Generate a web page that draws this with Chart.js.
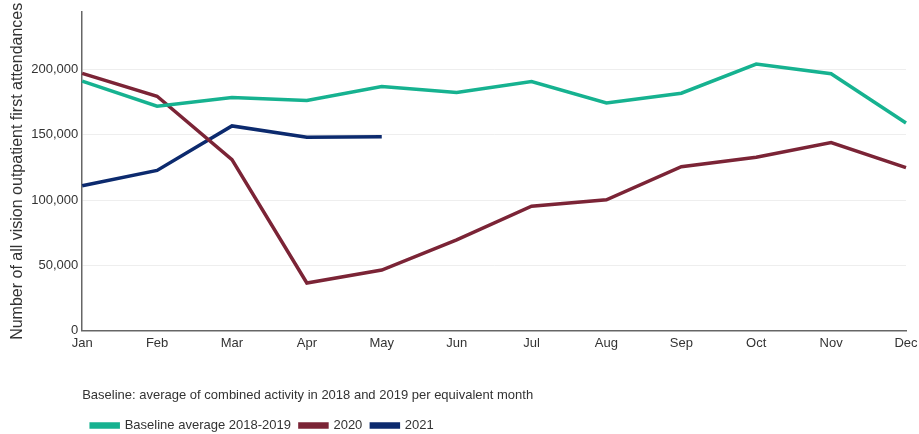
<!DOCTYPE html>
<html>
<head>
<meta charset="utf-8">
<script src="https://cdn.jsdelivr.net/npm/chart.js@4/dist/chart.umd.min.js"></script>
<style>
  html, body { margin: 0; padding: 0; background: #fff; }
  #wrap { width: 919px; height: 434px; }
</style>
</head>
<body>
<div id="wrap"><canvas id="attendChart"></canvas></div>
<script>
const months = ['Jan', 'Feb', 'Mar', 'Apr', 'May', 'Jun', 'Jul', 'Aug', 'Sep', 'Oct', 'Nov', 'Dec'];
const baseline = [191000, 171800, 178400, 176100, 186900, 182300, 190700, 174300, 181700, 204000, 196600, 159000];
const y2020 = [196900, 179400, 130900, 36600, 46500, 69500, 95300, 100200, 125500, 132700, 144000, 124800];
const y2021 = [111000, 122700, 156700, 148000, 148500];
const yTicks = [0, 50000, 100000, 150000, 200000];
const noteText = 'Baseline: average of combined activity in 2018 and 2019 per equivalent month';

Chart.defaults.font.family = '"Liberation Sans", Arial, sans-serif';
Chart.defaults.color = '#333';

let ctx = document.getElementById('attendChart').getContext('2d');
new Chart(ctx, {
    type: 'line',
    data: {
        labels: months,
        datasets: [
            { label: 'Baseline average 2018-2019', data: baseline, borderColor: '#16b290', backgroundColor: '#16b290' },
            { label: '2020', data: y2020, borderColor: '#7b2436', backgroundColor: '#7b2436' },
            { label: '2021', data: y2021, borderColor: '#0c2a6e', backgroundColor: '#0c2a6e' }
        ]
    },
    options: {
        responsive: true,
        maintainAspectRatio: false,
        animation: false,
        layout: { padding: { top: 11, right: 13, left: 5, bottom: 0 } },
        elements: {
            line: { borderWidth: 3.5, tension: 0 },
            point: { radius: 0, hoverRadius: 0 }
        },
        scales: {
            x: {
                grid: { display: false, drawTicks: false },
                border: { color: '#666', width: 1.5 },
                ticks: { font: { size: 13 }, padding: 5, maxRotation: 0, autoSkip: false },
                // let "Dec" run to the canvas edge like the original
                afterFit: function (scale) { scale.paddingRight = 0; }
            },
            y: {
                min: 0,
                max: 244000,
                // top of the axis sits above the last labelled tick
                afterBuildTicks: function (axis) {
                    axis.ticks = yTicks.map(v => ({ value: v }));
                },
                ticks: {
                    autoSkip: false,
                    font: { size: 13 },
                    padding: 4,
                    callback: v => v.toLocaleString('en-GB')
                },
                grid: { color: '#eeeeee', drawTicks: false },
                border: { color: '#666', width: 1.5 },
                title: {
                    display: true,
                    text: 'Number of all vision outpatient first attendances',
                    font: { size: 16 },
                    padding: { top: 3, bottom: 0 }
                }
            }
        },
        plugins: {
            legend: {
                position: 'bottom',
                align: 'start',
                fullSize: false,
                weight: 1500,
                maxHeight: 24,
                labels: { boxWidth: 27, boxHeight: 3, padding: 9, font: { size: 13 } }
            },
            subtitle: {
                display: true,
                text: noteText,
                position: 'bottom',
                align: 'start',
                fullSize: false,
                weight: 500,
                font: { size: 13 },
                padding: { top: 31, bottom: 7 }
            },
            tooltip: { enabled: false }
        }
    }
});
</script>
</body>
</html>
